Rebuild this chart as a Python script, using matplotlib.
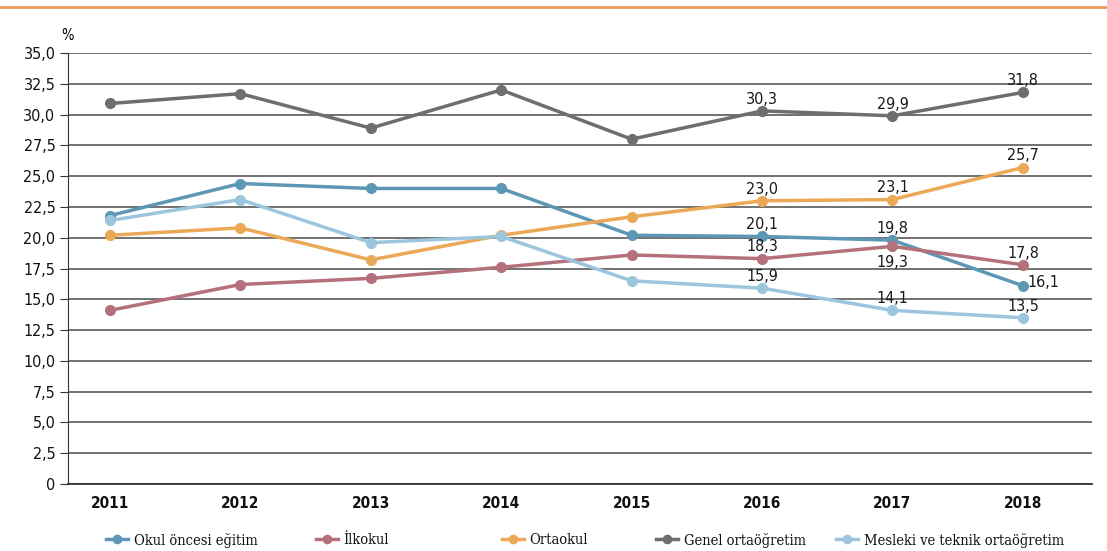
import matplotlib
matplotlib.use("Agg")
from matplotlib import pyplot as plt
from matplotlib.ticker import FuncFormatter
from matplotlib.lines import Line2D

plt.rcParams['font.family'] = ['DejaVu Sans']
plt.rcParams['font.stretch'] = 'condensed'

years = [2011, 2012, 2013, 2014, 2015, 2016, 2017, 2018]
okul_oncesi = [21.8, 24.4, 24.0, 24.0, 20.2, 20.1, 19.8, 16.1]
ilkokul = [14.1, 16.2, 16.7, 17.6, 18.6, 18.3, 19.3, 17.8]
ortaokul = [20.2, 20.8, 18.2, 20.2, 21.7, 23.0, 23.1, 25.7]
genel = [30.9, 31.7, 28.9, 32.0, 28.0, 30.3, 29.9, 31.8]
mesleki = [21.4, 23.1, 19.6, 20.1, 16.5, 15.9, 14.1, 13.5]

names = ["Okul öncesi eğitim", "İlkokul", "Ortaokul", "Genel ortaöğretim",
         "Mesleki ve teknik ortaöğretim"]
colors = ["#5e97b5", "#b4707b", "#eba957", "#6f6d6d", "#9cc6dd"]
series = [okul_oncesi, ilkokul, ortaokul, genel, mesleki]

# value labels: (series index, year index, offset, va, ha)
labels = [
    (3, 5, (0, 3), 'bottom', 'center'), (3, 6, (0, 3), 'bottom', 'center'),
    (3, 7, (0, 3), 'bottom', 'center'),
    (2, 5, (0, 3), 'bottom', 'center'), (2, 6, (0, 3), 'bottom', 'center'),
    (2, 7, (0, 3), 'bottom', 'center'),
    (0, 5, (0, 3), 'bottom', 'center'), (0, 6, (0, 3), 'bottom', 'center'),
    (0, 7, (3, 2), 'center', 'left'),
    (1, 5, (0, 3), 'bottom', 'center'), (1, 6, (0, -6), 'top', 'center'),
    (1, 7, (0, 3), 'bottom', 'center'),
    (4, 5, (0, 3), 'bottom', 'center'), (4, 6, (0, 3), 'bottom', 'center'),
    (4, 7, (0, 3), 'bottom', 'center'),
]

fig = plt.figure(figsize=(11.07, 5.51), dpi=100)
ax = fig.add_axes([68 / 1107, 67 / 551, 1024 / 1107, 431 / 551])

handles = []
for vals, c, n in zip(series, colors, names):
    h, = ax.plot(years, vals, color=c, lw=2.5, marker='o', ms=7, label=n, zorder=3)
    handles.append(h)

for si, yi, off, va, ha in labels:
    v = series[si][yi]
    ax.annotate(("%.1f" % v).replace('.', ','), (years[yi], v), xytext=off,
                textcoords='offset points', ha=ha, va=va,
                fontsize=11.5, color='#1a1a1a', zorder=4)

ax.set_xlim(2011 - 0.322, 2018.53)
ax.set_ylim(0, 35)
ax.set_yticks([i * 2.5 for i in range(15)])
ax.yaxis.set_major_formatter(FuncFormatter(
    lambda v, p: "0" if v == 0 else ("%.1f" % v).replace('.', ',')))
ax.set_xticks(years)
ax.grid(axis='y', color='#4a4a4a', lw=1.1)
ax.set_axisbelow(True)
for s in ['top', 'right']:
    ax.spines[s].set_visible(False)
ax.spines['left'].set_color('#333333')
ax.spines['bottom'].set_color('#333333')
ax.spines['bottom'].set_linewidth(1.3)
ax.tick_params(axis='y', length=6, color='#333333', labelsize=11.5, pad=3)
ax.tick_params(axis='x', length=0, labelsize=11, pad=9)
for t in ax.get_yticklabels():
    t.set_color('#111111')
for t in ax.get_xticklabels():
    t.set_color('#111111')
    t.set_fontweight('bold')

fig.text(68 / 1107, 1 - 35 / 551, "%", ha='center', va='center', fontsize=10.5)

# orange rule on top
fig.add_artist(Line2D([0, 1], [1 - 7 / 551, 1 - 7 / 551], color='#e89b5a', lw=2))

# legend entries placed one by one like the reference
leg_x = [106, 316, 502, 656, 836]
for h, x in zip(handles, leg_x):
    lg = fig.legend(handles=[h], loc='center left',
                    bbox_to_anchor=(x / 1107, 1 - 540 / 551), frameon=False,
                    prop={'family': 'DejaVu Serif', 'stretch': 'condensed', 'size': 10.5},
                    handlelength=1.5, handletextpad=0.4,
                    borderpad=0, borderaxespad=0, markerscale=0.85)
    for t in lg.get_texts():
        t.set_color('#111111')

fig.savefig("out.png", dpi=100)
